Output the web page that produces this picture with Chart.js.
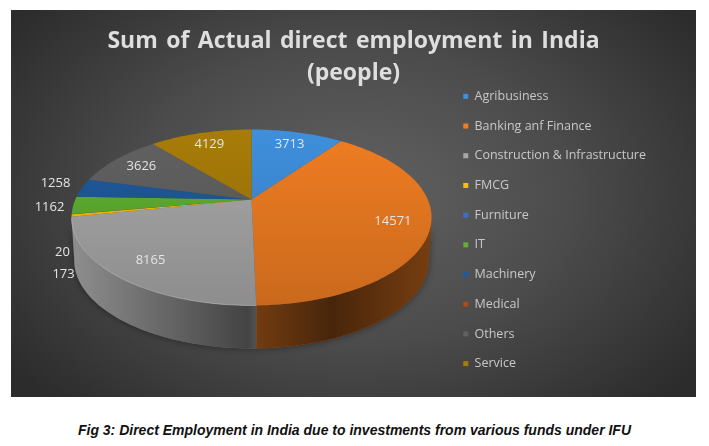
<!DOCTYPE html>
<html>
<head>
<meta charset="utf-8">
<script src="https://cdn.jsdelivr.net/npm/chart.js@4"></script>
<style>
html, body { margin: 0; background: #fff; }
#plate { position: absolute; left: 11px; top: 10px; width: 685px; height: 387px;
    background: radial-gradient(ellipse 62% 75% at 50% 48%, #626262 0%, #4c4c4c 50%, #2c2c2c 100%); }
canvas { filter: blur(0.5px); }
#title { position: absolute; left: 11px; width: 685px; top: 23px; text-align: center; color: #dedede;
    font: bold 23px/32px "Open Sans", sans-serif; word-spacing: 2.5px; filter: blur(0.5px); }
#caption { position: absolute; left: 0; width: 709px; top: 422px; text-align: center;
    font: italic bold 14px "Liberation Sans", Arial, sans-serif; color: #111; }
</style>
</head>
<body>
<div id="plate"><canvas id="pieChart" width="685" height="387"></canvas></div>
<div id="title">Sum of Actual direct employment in India<br>(people)</div>
<div id="caption">Fig 3: Direct Employment in India due to investments from various funds under IFU</div>
<script>
const categories = ['Agribusiness', 'Banking anf Finance', 'Construction & Infrastructure', 'FMCG', 'Furniture', 'IT', 'Machinery', 'Medical', 'Others', 'Service'];
const employment = [3713, 14571, 8165, 173, 20, 1162, 1258, 0, 3626, 4129];
const colours = ['#3f8fdc', '#f07d22', '#a8a8a8', '#ffc000', '#3a6fc8', '#5fb030', '#1f5a9c', '#b04a18', '#616161', '#a87c08'];

// small slices get their label beside the pie, offset from the apex
const sideLabels = { FMCG: [-188, 75], Furniture: [-189, 53], IT: [-202, 8], Machinery: [-196, -16] };

// the picture is a tilted pie: circle -> ellipse with the near side bigger
const tilt = { a: 176.2, b: 84.3, p: -0.2045, shiftY: -30.5, depth: 43, shrink: 0.985 };
const wallLimit = Math.asin(0.2045); // where the rim is widest, wall starts here

function project(arc, angle, f) {
    const u = Math.cos(angle) * f, v = Math.sin(angle) * f;
    const d = 1 + tilt.p * v;
    return [arc.x + tilt.a * u / d, arc.y + tilt.shiftY + tilt.b * v / d];
}

function rimPath(ctx, arc, from, to, down) {
    const steps = Math.max(2, Math.ceil(Math.abs(to - from) * 40));
    for (let i = 0; i <= steps; i++) {
        const p = project(arc, from + (to - from) * i / steps, 1);
        let x = p[0], y = p[1];
        if (down) {
            x = arc.x + (x - arc.x) * tilt.shrink;
            y += tilt.depth;
        }
        ctx.lineTo(x, y);
    }
}

const tiltedPie = {
    id: 'tiltedPie',
    beforeDatasetsDraw(chart) {
        const ctx = chart.ctx;
        const arcs = chart.getDatasetMeta(0).data;
        const first = arcs[0];
        const left = first.x - tilt.a * 1.03, right = first.x + tilt.a * 1.03;

        // soft shadow under the whole wall
        ctx.save();
        ctx.shadowColor = 'rgba(0,0,0,0.45)';
        ctx.shadowBlur = 7;
        ctx.beginPath();
        rimPath(ctx, first, wallLimit, Math.PI - wallLimit, false);
        rimPath(ctx, first, Math.PI - wallLimit, wallLimit, true);
        ctx.closePath();
        ctx.fillStyle = '#333';
        ctx.fill();
        ctx.restore();

        // side wall, front half only
        const wallShade = ctx.createLinearGradient(left, 0, right, 0);
        wallShade.addColorStop(0, 'rgba(0,0,0,0.15)');
        wallShade.addColorStop(0.49, 'rgba(0,0,0,0.6)');
        wallShade.addColorStop(0.51, 'rgba(0,0,0,0.52)');
        wallShade.addColorStop(0.72, 'rgba(0,0,0,0.7)');
        wallShade.addColorStop(1, 'rgba(0,0,0,0.5)');
        arcs.forEach((arc, i) => {
            const from = Math.max(arc.startAngle, wallLimit), to = Math.min(arc.endAngle, Math.PI - wallLimit);
            if (to <= from) return;
            ctx.beginPath();
            rimPath(ctx, arc, from, to, false);
            rimPath(ctx, arc, to, from, true);
            ctx.closePath();
            ctx.fillStyle = colours[i];
            ctx.fill();
            ctx.fillStyle = wallShade;
            ctx.fill();
        });

        // top face
        const faceShade = ctx.createLinearGradient(0, first.y + tilt.shiftY - 70, 0, first.y + tilt.shiftY + 106);
        faceShade.addColorStop(0, 'rgba(0,0,0,0)');
        faceShade.addColorStop(1, 'rgba(0,0,0,0.16)');
        arcs.forEach((arc, i) => {
            if (arc.endAngle - arc.startAngle <= 0) return;
            const c = project(arc, 0, 0);
            ctx.beginPath();
            ctx.moveTo(c[0], c[1]);
            rimPath(ctx, arc, arc.startAngle, arc.endAngle, false);
            ctx.closePath();
            ctx.fillStyle = colours[i];
            ctx.fill();
            ctx.fillStyle = faceShade;
            ctx.fill();
        });

        // light edge along the front of the grey slice
        const grey = arcs[2];
        ctx.beginPath();
        rimPath(ctx, grey, grey.startAngle, Math.min(grey.endAngle, Math.PI - wallLimit), false);
        ctx.strokeStyle = 'rgba(255,255,255,0.3)';
        ctx.lineWidth = 1;
        ctx.stroke();

        // value labels
        ctx.font = '13px "Open Sans", sans-serif';
        ctx.fillStyle = '#e4e4e4';
        ctx.textAlign = 'center';
        ctx.textBaseline = 'middle';
        arcs.forEach((arc, i) => {
            if (!employment[i]) return;
            const side = sideLabels[categories[i]];
            const c = project(arc, 0, 0);
            const p = side ? [c[0] + side[0], c[1] + side[1]]
                : project(arc, (arc.startAngle + arc.endAngle) / 2, 0.8);
            ctx.fillText(String(employment[i]), p[0], p[1]);
        });
        return false;
    }
};

new Chart(document.getElementById('pieChart'), {
    type: 'pie',
    data: {
        labels: categories,
        datasets: [{ data: employment, backgroundColor: colours, borderWidth: 0 }]
    },
    plugins: [tiltedPie],
    options: {
        responsive: false,
        animation: false,
        layout: { padding: { left: 46, right: 40, top: 53 } },
        plugins: {
            legend: {
                position: 'right',
                labels: {
                    color: '#c8c8c8',
                    font: { family: '"Open Sans", sans-serif', size: 12.5 },
                    usePointStyle: true,
                    pointStyle: 'rect',
                    boxWidth: 5,
                    boxHeight: 5,
                    padding: 17.2
                }
            },
            tooltip: { enabled: false }
        }
    }
});
</script>
</body>
</html>
